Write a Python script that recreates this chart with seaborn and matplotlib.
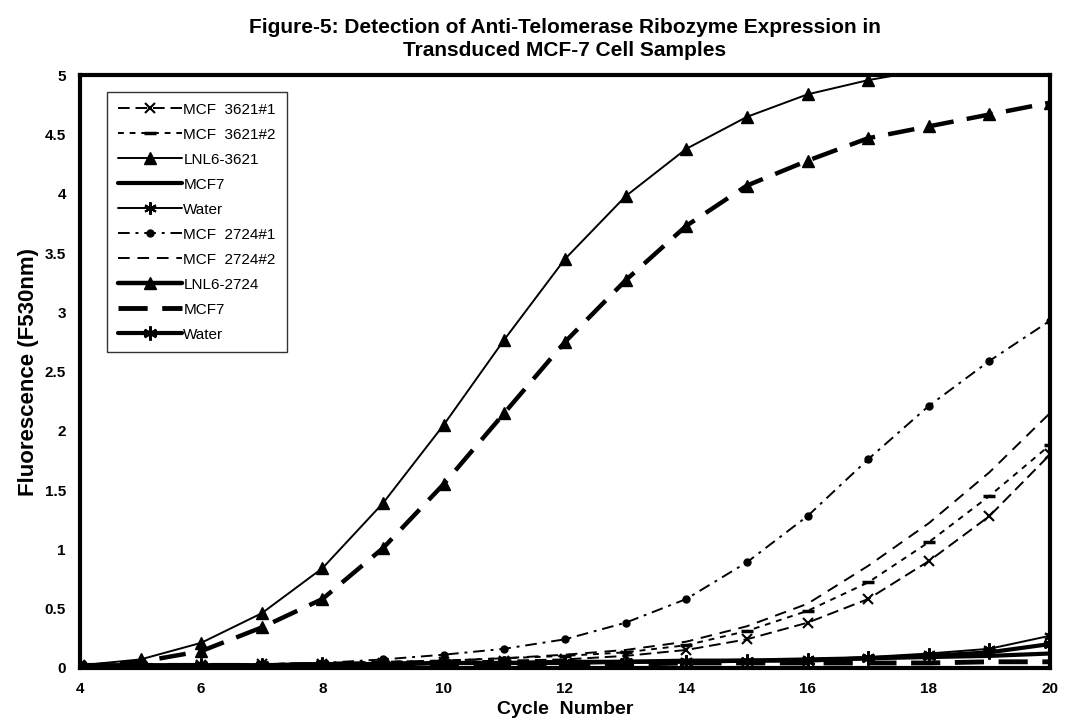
import matplotlib
matplotlib.use("Agg")
import matplotlib.pyplot as plt
from matplotlib.lines import Line2D
import seaborn as sns
import pandas as pd

cycles = list(range(4, 21))

mcf3621_1 = [0.02, 0.02, 0.02, 0.03, 0.03, 0.04, 0.05, 0.06, 0.07, 0.10, 0.15, 0.24, 0.38, 0.58, 0.90, 1.28, 1.80]
mcf3621_2 = [0.02, 0.02, 0.02, 0.03, 0.04, 0.05, 0.06, 0.08, 0.10, 0.13, 0.19, 0.31, 0.48, 0.72, 1.06, 1.45, 1.88]
lnl6_3621 = [0.02, 0.07, 0.21, 0.46, 0.84, 1.39, 2.05, 2.77, 3.45, 3.98, 4.38, 4.65, 4.84, 4.96, 5.05, 5.12, 5.18]
mcf7_a    = [0.02, 0.02, 0.02, 0.02, 0.03, 0.03, 0.04, 0.04, 0.05, 0.05, 0.06, 0.06, 0.07, 0.08, 0.09, 0.10, 0.12]
water_a   = [0.02, 0.02, 0.02, 0.02, 0.03, 0.03, 0.04, 0.04, 0.05, 0.05, 0.06, 0.06, 0.07, 0.09, 0.12, 0.16, 0.27]
mcf2724_1 = [0.01, 0.02, 0.02, 0.03, 0.04, 0.07, 0.11, 0.16, 0.24, 0.38, 0.58, 0.89, 1.28, 1.76, 2.21, 2.59, 2.93]
mcf2724_2 = [0.02, 0.02, 0.02, 0.03, 0.04, 0.05, 0.06, 0.08, 0.11, 0.15, 0.22, 0.35, 0.54, 0.86, 1.22, 1.65, 2.15]
lnl6_2724 = [0.01, 0.05, 0.14, 0.34, 0.58, 1.01, 1.55, 2.15, 2.75, 3.27, 3.73, 4.07, 4.28, 4.47, 4.57, 4.67, 4.77]
mcf7_b    = [0.02, 0.02, 0.02, 0.02, 0.02, 0.03, 0.03, 0.03, 0.03, 0.03, 0.04, 0.04, 0.04, 0.04, 0.04, 0.05, 0.05]
water_b   = [0.02, 0.02, 0.02, 0.02, 0.03, 0.03, 0.04, 0.04, 0.04, 0.05, 0.05, 0.06, 0.06, 0.08, 0.10, 0.13, 0.20]

labels = ["MCF  3621#1", "MCF  3621#2", "LNL6-3621", "MCF7", "Water",
          "MCF  2724#1", "MCF  2724#2", "LNL6-2724", "MCF7", "Water"]
values = [mcf3621_1, mcf3621_2, lnl6_3621, mcf7_a, water_a,
          mcf2724_1, mcf2724_2, lnl6_2724, mcf7_b, water_b]

asterisk = (6, 2, 0)
# plot style for each series (the LNL6-2724 curve is drawn dashed in the chart)
styles = [
    dict(lw=1.4, dashes=(6, 3), marker="x", ms=7, mew=1.5),
    dict(lw=1.4, dashes=(3, 3), marker="_", ms=9, mew=2.5),
    dict(lw=1.4, dashes=None, marker="^", ms=8, mew=1),
    dict(lw=3.0, dashes=None, marker=None, ms=0, mew=0),
    dict(lw=1.4, dashes=None, marker=asterisk, ms=9, mew=1.5),
    dict(lw=1.4, dashes=(6, 3, 1.5, 3), marker="o", ms=5, mew=1),
    dict(lw=1.4, dashes=(6, 4), marker=None, ms=0, mew=0),
    dict(lw=3.2, dashes=(6, 3), marker="^", ms=9, mew=1),
    dict(lw=3.5, dashes=(6, 3), marker=None, ms=0, mew=0),
    dict(lw=3.0, dashes=None, marker=asterisk, ms=10, mew=2),
]

sns.set_style("white")
plt.rcParams["font.family"] = ["Liberation Sans", "DejaVu Sans"]
plt.rcParams["text.color"] = "black"
plt.rcParams["axes.labelcolor"] = "black"
plt.rcParams["xtick.color"] = "black"
plt.rcParams["ytick.color"] = "black"

fig = plt.figure(figsize=(10.65, 7.25), dpi=100)
ax = fig.add_axes([0.075, 0.079, 0.911, 0.817])

for lab, vals, st in zip(labels, values, styles):
    df = pd.DataFrame({"cycle": cycles, "fluor": vals})
    sns.lineplot(data=df, x="cycle", y="fluor", ax=ax, color="black",
                 lw=st["lw"], marker=st["marker"], markersize=st["ms"],
                 markeredgewidth=st["mew"], markeredgecolor="black", legend=False)
    l = ax.get_lines()[-1]
    if st["dashes"] is not None:
        l.set_dashes(st["dashes"])

# legend entries as shown in the chart's key
handles = []
for i, st in enumerate(styles):
    dashes = st["dashes"]
    if i == 7:
        dashes = None
    h = Line2D([], [], color="black", lw=st["lw"], marker=st["marker"],
               markersize=st["ms"], markeredgewidth=st["mew"])
    if dashes is not None:
        h.set_dashes(dashes)
    handles.append(h)

ax.set_xlim(4, 20)
ax.set_ylim(0, 5)
ax.set_xticks(range(4, 21, 2))
ax.set_yticks([0, 0.5, 1, 1.5, 2, 2.5, 3, 3.5, 4, 4.5, 5])
ax.set_yticklabels(["0", "0.5", "1", "1.5", "2", "2.5", "3", "3.5", "4", "4.5", "5"])
ax.tick_params(axis="both", length=0, labelsize=11, pad=10)
for t in ax.get_xticklabels() + ax.get_yticklabels():
    t.set_fontweight("bold")
for s in ax.spines.values():
    s.set_color("black")
    s.set_linewidth(3)

ax.set_xlabel("Cycle  Number", fontsize=14, fontweight="bold", labelpad=4)
ax.set_ylabel("Fluorescence (F530nm)", fontsize=16, fontweight="bold", labelpad=4)
ax.set_title("Figure-5: Detection of Anti-Telomerase Ribozyme Expression in\nTransduced MCF-7 Cell Samples",
             fontsize=15, fontweight="bold", pad=14, linespacing=1.25)

leg = ax.legend(handles, labels, loc="upper left", bbox_to_anchor=(0.02, 0.985), fontsize=11,
                frameon=True, fancybox=False, edgecolor="black", handlelength=4.2,
                labelspacing=0.72, borderpad=0.7, handletextpad=0.1)
leg.get_frame().set_linewidth(1.0)

fig.savefig("out.png", dpi=100)
